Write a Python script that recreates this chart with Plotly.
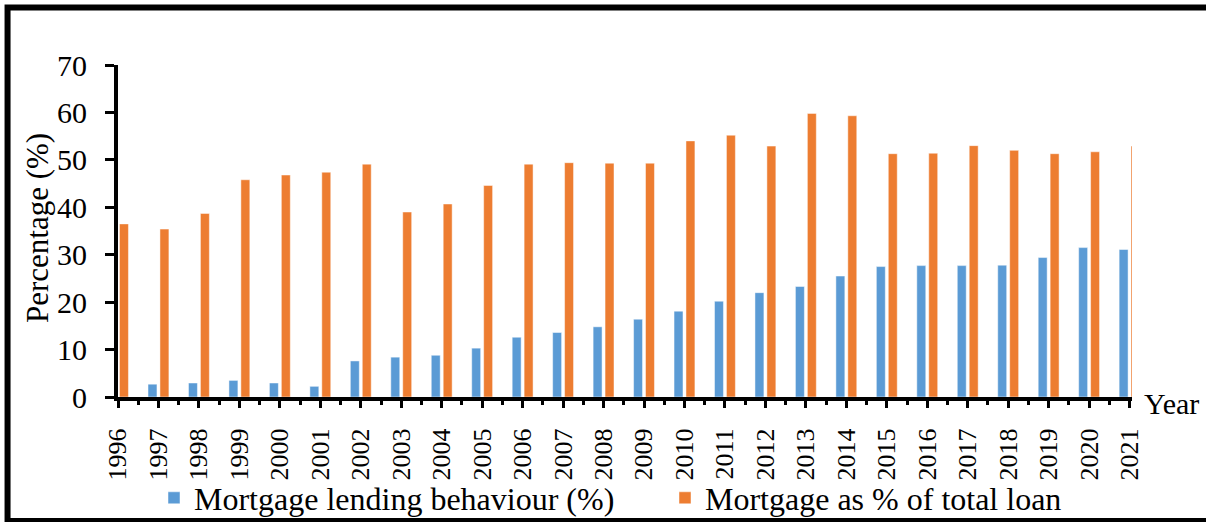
import plotly.graph_objects as go

years = list(range(1996, 2022))
lending_behaviour = [0, 2.7, 2.95, 3.5, 2.95, 2.25, 7.6, 8.4, 8.8, 10.3, 12.6, 13.6, 14.8,
                     16.4, 18.1, 20.2, 22.0, 23.3, 25.5, 27.5, 27.7, 27.7, 27.8, 29.4, 31.5, 31.1]
mortgage_share = [36.5, 35.4, 38.7, 45.8, 46.8, 47.4, 49.1, 39.0, 40.7, 44.6, 49.1, 49.4, 49.3,
                  49.3, 54.0, 55.2, 52.9, 59.8, 59.3, 51.3, 51.4, 53.0, 52.0, 51.3, 51.7, 52.9]
tick_labels = [str(y) for y in years]
y_ticks = [0, 10, 20, 30, 40, 50, 60, 70]

FONT = "Liberation Serif"
W, H = 1206, 522
ML, MT, MB = 118, 65, 125
PX_PER_YEAR = 40.48
X_END = 2021.06
PW = (X_END - 1996) * PX_PER_YEAR
MR = W - ML - PW
PH = H - MT - MB

fig = go.Figure()
fig.add_trace(go.Bar(x=years, y=lending_behaviour, name="Mortgage lending behaviour (%)",
                     legendwidth=466,
                     marker=dict(color="#5B9BD5", line=dict(color="rgba(255,255,255,0.6)", width=0.8))))
fig.add_trace(go.Bar(x=years, y=mortgage_share, name="Mortgage as % of total loan",
                     marker=dict(color="#ED7D31", line=dict(color="rgba(255,255,255,0.6)", width=0.8))))

fig.update_layout(
    width=W, height=H,
    margin=dict(l=ML, r=MR, t=MT, b=MB, pad=0),
    paper_bgcolor="white", plot_bgcolor="white",
    barmode="group", bargap=0.41, bargroupgap=0.25,
    font=dict(family=FONT, color="black"),
    showlegend=True,
    legend=dict(orientation="h", xref="container", yref="container",
                x=154 / W, xanchor="left", y=1 - 498 / H, yanchor="middle",
                font=dict(family=FONT, size=32, color="black"),
                bgcolor="rgba(0,0,0,0)", itemwidth=30, tracegroupgap=0),
    xaxis=dict(range=[1996, X_END], tickmode="array", tickvals=years, ticktext=tick_labels,
               tickangle=-90, tickfont=dict(family=FONT, size=26, color="black"),
               showline=True, linecolor="black", linewidth=4,
               ticks="outside", ticklen=7, tickwidth=3, tickcolor="black",
               ticklabelstandoff=10,
               minor=dict(tickmode="array", tickvals=[y + 0.5 for y in years[:-1]],
                          ticks="outside", ticklen=4, tickwidth=3, tickcolor="black"),
               showgrid=False, zeroline=False, automargin=False),
    yaxis=dict(range=[0, 70], tickmode="array", tickvals=y_ticks,
               tickfont=dict(family=FONT, size=30, color="black"),
               showline=True, linecolor="black", linewidth=4,
               ticks="outside", ticklen=9, tickwidth=3, tickcolor="black",
               ticklabelstandoff=12,
               showgrid=False, zeroline=False, automargin=False),
    annotations=[
        dict(text="Percentage (%)", textangle=-90, xref="paper", yref="paper",
             x=(37 - ML) / PW, y=(397 - 228) / PH, xanchor="center", yanchor="middle",
             showarrow=False, font=dict(family=FONT, size=31, color="black")),
        dict(text="Year", xref="paper", yref="y", x=(1142 - ML) / PW, y=0,
             xanchor="left", yanchor="middle", yshift=-6,
             showarrow=False, font=dict(family=FONT, size=30, color="black")),
    ],
    shapes=[
        dict(type="rect", xref="paper", yref="paper",
             x0=(7.5 - ML) / PW, x1=1.25, y0=(397 - 521) / PH, y1=(397 - 7.5) / PH,
             line=dict(color="black", width=6), fillcolor="rgba(0,0,0,0)", layer="above"),
    ],
)

fig.write_html("out.html", config={"displayModeBar": False},
               post_script="document.body.style.margin='0';")
